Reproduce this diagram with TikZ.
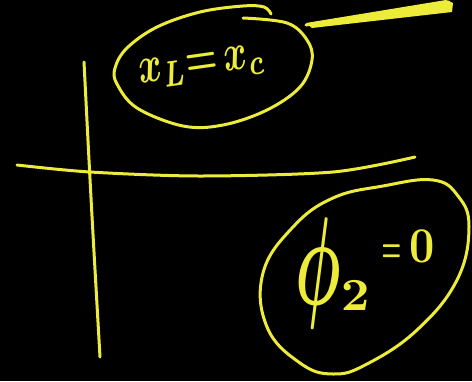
\documentclass[tikz,border=0pt]{standalone}
\usepackage{graphicx}
\definecolor{chalk}{RGB}{238,236,58}
\tikzset{
  ink/.style={draw=chalk, line width=3pt, line cap=round, line join=round},
  hand/.style={text=chalk, inner sep=0pt, font=\boldmath}
}
\begin{document}
\begin{tikzpicture}[x=1pt,y=-1pt]
\fill[black] (0,0) rectangle (472,381);
\useasboundingbox (0,0) rectangle (472,381);
% axes
\draw[ink] (84,62) .. controls (91,200) .. (100,357);
\draw[ink] plot[smooth] coordinates {(17,165) (90,172) (200,176) (333,172) (415,157)};
% top ellipse
\draw[ink] plot[smooth, tension=0.6] coordinates {(243,18) (287,23) (307,40) (312,60) (300,87) (267,110) (223,125) (183,126) (137,108) (117,84) (115,68) (127,48) (157,27) (200,12) (243,6) (264,7) (271,14)};
% tail
\fill[chalk] (306,23) -- (446,0) -- (453,3) -- (452,12) -- (312,28) -- cycle;
\draw[ink] (306,25) -- (449,2);
% bottom ellipse
\draw[ink] plot[smooth cycle, tension=0.7] coordinates {(433,180) (383,186) (333,198) (293,227) (263,273) (267,327) (300,363) (333,374) (367,364) (417,330) (457,280) (469,227) (458,196)};
% texts
\node[hand, rotate=8] (xeq) at (202,67) {\scalebox{3.6}[5.2]{$x_L{=}\,x_c$}};
\node[hand, anchor=base west] (phi) at (295,304) {\scalebox{6.4}[12.5]{$\phi$}\raisebox{-6pt}{\scalebox{5}[4.6]{$2$}}\hspace{12pt}\raisebox{42pt}{\scalebox{2.2}[4.5]{$=$}\hspace{8pt}\scalebox{4.4}[5]{$0$}}};
\end{tikzpicture}
\end{document}
